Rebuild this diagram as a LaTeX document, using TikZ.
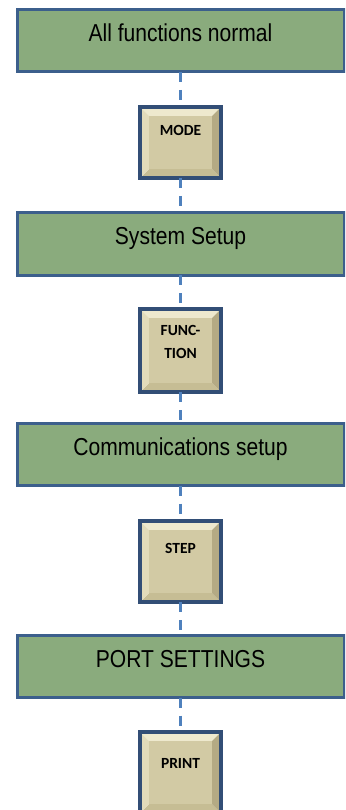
\documentclass[tikz,border=0pt]{standalone}
\usepackage{fontspec}
\setmainfont{Liberation Sans}
\newfontfamily\boxfont[FakeStretch=0.86]{Liberation Sans}
\newfontfamily\btnfont{Carlito}
\definecolor{gfill}{RGB}{138,171,125}
\definecolor{gborder}{RGB}{60,95,140}
\definecolor{conncol}{RGB}{79,129,189}
\definecolor{bface}{RGB}{210,202,164}
\definecolor{btop}{RGB}{238,233,206}
\definecolor{bleft}{RGB}{226,219,186}
\definecolor{bright}{RGB}{180,170,132}
\definecolor{bbottom}{RGB}{198,189,148}
\definecolor{bborder}{RGB}{50,78,118}
\definecolor{bshadow}{RGB}{28,44,72}
\tikzset{
  gbox/.style={draw=gborder, fill=gfill, line width=3pt, minimum width=327pt, minimum height=62pt, inner sep=0pt, outer sep=0pt},
  gtext/.style={font=\boxfont\fontsize{24.5}{28}\selectfont, anchor=base, inner sep=0pt},
  btnshape/.style={minimum width=81pt, inner sep=0pt, outer sep=0pt},
  btext/.style={font=\btnfont\bfseries\fontsize{15.5}{23}\selectfont, align=center, inner sep=0pt},
  conn/.style={draw=conncol, line width=2.6pt, dash pattern=on 10pt off 8pt}
}
\newcommand\bevbtn[3]{%
  \node[btnshape, minimum height=#3] (#1) at (180.5,{#2+#3/2}) {};
  \fill[btop] (#1.north west) -- (#1.north east) -- ([xshift=-9pt,yshift=-9pt]#1.north east) -- ([xshift=9pt,yshift=-9pt]#1.north west) -- cycle;
  \fill[bbottom] (#1.south west) -- (#1.south east) -- ([xshift=-9pt,yshift=9pt]#1.south east) -- ([xshift=9pt,yshift=9pt]#1.south west) -- cycle;
  \fill[bleft] (#1.north west) -- (#1.south west) -- ([xshift=9pt,yshift=9pt]#1.south west) -- ([xshift=9pt,yshift=-9pt]#1.north west) -- cycle;
  \fill[bright] (#1.north east) -- (#1.south east) -- ([xshift=-9pt,yshift=9pt]#1.south east) -- ([xshift=-9pt,yshift=-9pt]#1.north east) -- cycle;
  \fill[bface] ([xshift=9pt,yshift=-9pt]#1.north west) rectangle ([xshift=-9pt,yshift=9pt]#1.south east);
  \draw[bshadow, line width=1.5pt] ([xshift=1.5pt,yshift=1pt]#1.north east) -- ([xshift=1.5pt,yshift=-1.5pt]#1.south east) -- ([xshift=1pt,yshift=-1.5pt]#1.south west);
  \draw[bborder, line width=3.2pt] (#1.north west) rectangle (#1.south east);
}
\begin{document}
\begin{tikzpicture}[x=1pt,y=-1pt]
\useasboundingbox (0,0) rectangle (345,810);
\clip (0,0) rectangle (345,810);
% green boxes
\node[gbox] (b1) at (180.5,41) {};
\node[gtext] (t1) at (180.5,42) {All functions normal};
\node[gbox] (b2) at (180.5,244) {};
\node[gtext] (t2) at (180.5,244) {System Setup};
\node[gbox] (b3) at (180.5,454.5) {};
\node[gtext] (t3) at (180.5,455) {Communications setup};
\node[gbox] (b4) at (180.5,666.5) {};
\node[gtext] (t4) at (180.5,667) {PORT SETTINGS};
% buttons
\bevbtn{mode}{107}{71}
\node[btext] (mt) at (180.5,130) {MODE};
\bevbtn{func}{309}{83}
\node[btext] (ft) at (180.5,341.5) {FUNC-\\TION};
\bevbtn{step}{521}{81}
\node[btext] (st) at (180.5,548) {STEP};
\bevbtn{print}{732}{81}
\node[btext] (pt) at (180.5,763) {PRINT};
% connectors
\draw[conn] (b1.south) -- (mode.north);
\draw[conn] (mode.south) -- (b2.north);
\draw[conn] (b2.south) -- (func.north);
\draw[conn] (func.south) -- (b3.north);
\draw[conn] (b3.south) -- (step.north);
\draw[conn] (step.south) -- (b4.north);
\draw[conn] (b4.south) -- (print.north);
\end{tikzpicture}
\end{document}
